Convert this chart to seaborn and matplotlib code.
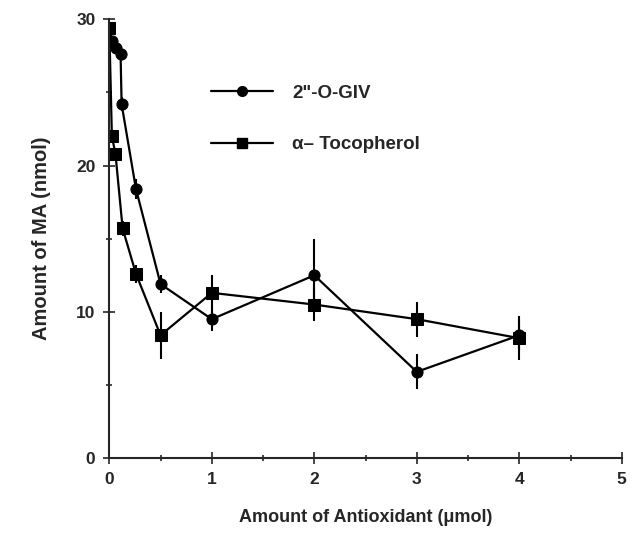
import numpy as np
import pandas as pd
import matplotlib
matplotlib.use('Agg')
import matplotlib.pyplot as plt
import seaborn as sns
from matplotlib.ticker import MultipleLocator

# 2"-O-GIV (кружки)
giv_x = [0, 0.025, 0.07, 0.11, 0.12, 0.26, 0.5, 1, 2, 3, 4]
giv_y = [29.4, 28.5, 28.0, 27.6, 24.2, 18.4, 11.9, 9.5, 12.5, 5.9, 8.4]
giv_err = [0.3, 0.3, 0.3, 0.3, 0.5, 0.7, 0.6, 0.8, 2.5, 1.2, 1.0]

# alpha-Tocopherol (квадраты)
toc_x = [0, 0.025, 0.06, 0.13, 0.26, 0.5, 1, 2, 3, 4]
toc_y = [29.4, 22.0, 20.8, 15.7, 12.6, 8.4, 11.3, 10.5, 9.5, 8.2]
toc_err = [0.3, 0.4, 0.4, 0.5, 0.6, 1.6, 1.2, 1.1, 1.2, 1.5]

labels = ['2"-O-GIV', 'α– Tocopherol']

sns.set_style('ticks')
plt.rcParams['font.family'] = ['Liberation Sans', 'DejaVu Sans']
plt.rcParams['font.weight'] = 'bold'

df = pd.concat([
    pd.DataFrame({'x': giv_x, 'y': giv_y, 's': labels[0]}),
    pd.DataFrame({'x': toc_x, 'y': toc_y, 's': labels[1]}),
])

fig = plt.figure(figsize=(6.43, 5.34), dpi=100)
ax = fig.add_axes([0.17, 0.142, 0.797, 0.822])

sns.lineplot(data=df, x='x', y='y', style='s', markers={labels[0]: 'o', labels[1]: 's'},
             dashes=False, sort=False, color='black', linewidth=1.6, markersize=8,
             markeredgecolor='black', ax=ax, legend=False)
ax.errorbar(giv_x, giv_y, yerr=giv_err, fmt='none', ecolor='black', elinewidth=1.5, capsize=0)
ax.errorbar(toc_x, toc_y, yerr=toc_err, fmt='none', ecolor='black', elinewidth=1.5, capsize=0)

# легенда - маркеры поменьше, как в оригинале
h1, = ax.plot([], [], color='black', marker='o', markersize=7, linewidth=1.6)
h2, = ax.plot([], [], color='black', marker='s', markersize=7, linewidth=1.6)
ax.legend([h1, h2], labels, loc='upper left', bbox_to_anchor=(0.165, 0.89), frameon=False,
          handlelength=3.3, labelspacing=1.85, handletextpad=1.05, numpoints=1,
          prop={'size': 13.5, 'weight': 'bold'})

ax.set_xlim(0, 5)
ax.set_ylim(0, 30)
ax.xaxis.set_major_locator(MultipleLocator(1))
ax.xaxis.set_minor_locator(MultipleLocator(0.5))
ax.yaxis.set_major_locator(MultipleLocator(10))
ax.yaxis.set_minor_locator(MultipleLocator(5))
ax.tick_params(which='both', direction='inout', width=1.2, labelsize=12.5, pad=6)
ax.tick_params(which='major', length=8)
ax.tick_params(which='minor', length=5)
for t in ax.get_xticklabels() + ax.get_yticklabels():
    t.set_fontweight('bold')
sns.despine(ax=ax)
for sp in ['left', 'bottom']:
    ax.spines[sp].set_linewidth(1.5)

ax.set_xlabel('Amount of Antioxidant (μmol)', fontsize=13, fontweight='bold', labelpad=16)
ax.set_ylabel('Amount of MA (nmol)', fontsize=14.5, fontweight='bold', labelpad=18)

fig.savefig('out.png', dpi=100)
